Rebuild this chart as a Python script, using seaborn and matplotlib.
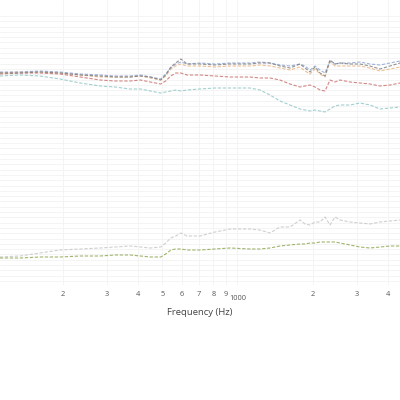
import numpy as np
import pandas as pd
import matplotlib
matplotlib.use("Agg")
import matplotlib.pyplot as plt
import matplotlib.transforms as mtransforms
import seaborn as sns

# Frequency (Hz)
freq = [112, 135, 162, 195, 235, 282, 324, 372, 409, 448, 493, 516, 541, 566, 594,
        628, 708, 813, 933, 1122, 1230, 1349, 1479, 1622, 1778, 1862, 1950, 2042,
        2138, 2239, 2344, 2455, 2570, 2818, 3090, 3388, 3715, 4074, 4467]

# Series values in "pixel depth" units (converted to dB below)
s_gray = [73, 73, 72, 73, 75, 76, 77, 77, 76, 77, 80, 75, 67, 63, 59, 64, 64, 65, 64, 64,
          63, 63, 66, 68, 64, 68, 72, 67, 73, 76, 60, 64, 63, 64, 64, 66, 69, 66, 63]
s_blue = [72, 72, 71, 72, 74, 75, 76, 76, 75, 77, 79, 74, 68, 64, 62, 64, 63, 64, 63, 63,
          62, 63, 65, 66, 64, 66, 70, 66, 70, 73, 61, 64, 63, 63, 62, 64, 65, 63, 61]
s_orange = [73, 72, 72, 73, 75, 77, 77, 77, 76, 78, 80, 76, 69, 66, 64, 66, 66, 67, 66, 66,
            65, 66, 68, 70, 67, 71, 74, 69, 74, 77, 62, 66, 66, 66, 66, 68, 71, 69, 67]
s_red = [74, 73, 73, 74, 77, 80, 81, 81, 80, 82, 84, 81, 76, 73, 73, 75, 75, 76, 77, 77,
         78, 78, 80, 84, 87, 86, 85, 87, 90, 91, 80, 82, 80, 82, 83, 84, 86, 85, 83]
s_teal = [76, 75, 76, 79, 83, 86, 87, 89, 89, 91, 93, 92, 91, 90, 91, 90, 89, 88, 88, 88,
          90, 95, 101, 105, 109, 110, 111, 110, 111, 112, 109, 106, 105, 105, 103, 105, 109, 108, 107]
s_light = [257, 256, 253, 250, 249, 248, 247, 246, 247, 248, 247, 243, 238, 236, 233, 236, 236, 232, 229, 229,
           230, 233, 227, 227, 220, 224, 225, 222, 222, 217, 225, 217, 220, 222, 223, 224, 222, 221, 220]
s_green = [258, 258, 257, 257, 256, 256, 255, 255, 256, 257, 257, 254, 250, 249, 249, 250, 250, 249, 248, 249,
           249, 248, 246, 245, 244, 244, 243, 243, 242, 242, 242, 242, 243, 245, 247, 248, 247, 246, 246]

series = {
    "light": s_light, "green": s_green, "teal": s_teal, "red": s_red,
    "orange": s_orange, "blue": s_blue, "gray": s_gray,
}
colors = {
    "light": "#c4c4c4", "green": "#8aa24a", "teal": "#8cc4c4", "red": "#c86a66",
    "orange": "#eab07a", "blue": "#8aa0d0", "gray": "#7a7a7a",
}

tick_vals = [200, 300, 400, 500, 600, 700, 800, 900, 1000, 2000, 3000, 4000]
tick_labels = ["2", "3", "4", "5", "6", "7", "8", "9", "1000", "2", "3", "4"]

SCALE = 5.3
rows = []
for name, vals in series.items():
    for f, v in zip(freq, vals):
        rows.append({"freq": f, "db": -v / SCALE, "series": name})
df = pd.DataFrame(rows)

sns.set_theme(style="white")
plt.rcParams["font.family"] = ["Open Sans", "DejaVu Sans"]

fig = plt.figure(figsize=(4, 4), dpi=100)
ax = fig.add_axes([0, 1 - 285 / 400, 1, 285 / 400])

sns.lineplot(data=df, x="freq", y="db", hue="series", palette=colors,
             hue_order=list(series.keys()), ax=ax, legend=False,
             linewidth=0.8, alpha=0.8, estimator=None, sort=False)
for line in ax.lines:
    line.set_linestyle((0, (3, 1.5)))

ax.set_xscale("log")
ax.set_xlim(112.2, 4467)
ax.set_ylim(-285 / SCALE, 0)

ax.set_yticks(np.arange(-53, -2, 1))
ax.set_yticklabels([])
ax.set_xticks(tick_vals)
ax.set_xticklabels(tick_labels)
ax.xaxis.set_minor_locator(matplotlib.ticker.NullLocator())
ax.tick_params(axis="both", length=0)
ax.tick_params(axis="x", labelsize=5.3, labelcolor="#555555", pad=4)
ax.grid(True, color="#f3f3f3", linewidth=0.6)
ax.set_axisbelow(True)
for sp in ax.spines.values():
    sp.set_visible(False)

for lab in ax.get_xticklabels():
    if lab.get_text() == "1000":
        lab.set_transform(lab.get_transform() +
                          mtransforms.ScaledTranslation(0, -3.5 / 72, fig.dpi_scale_trans))

ax.set_ylabel("")
ax.set_xlabel("Frequency (Hz)", fontsize=6.8, color="#444444", labelpad=4)

fig.savefig("out.png", dpi=100)
